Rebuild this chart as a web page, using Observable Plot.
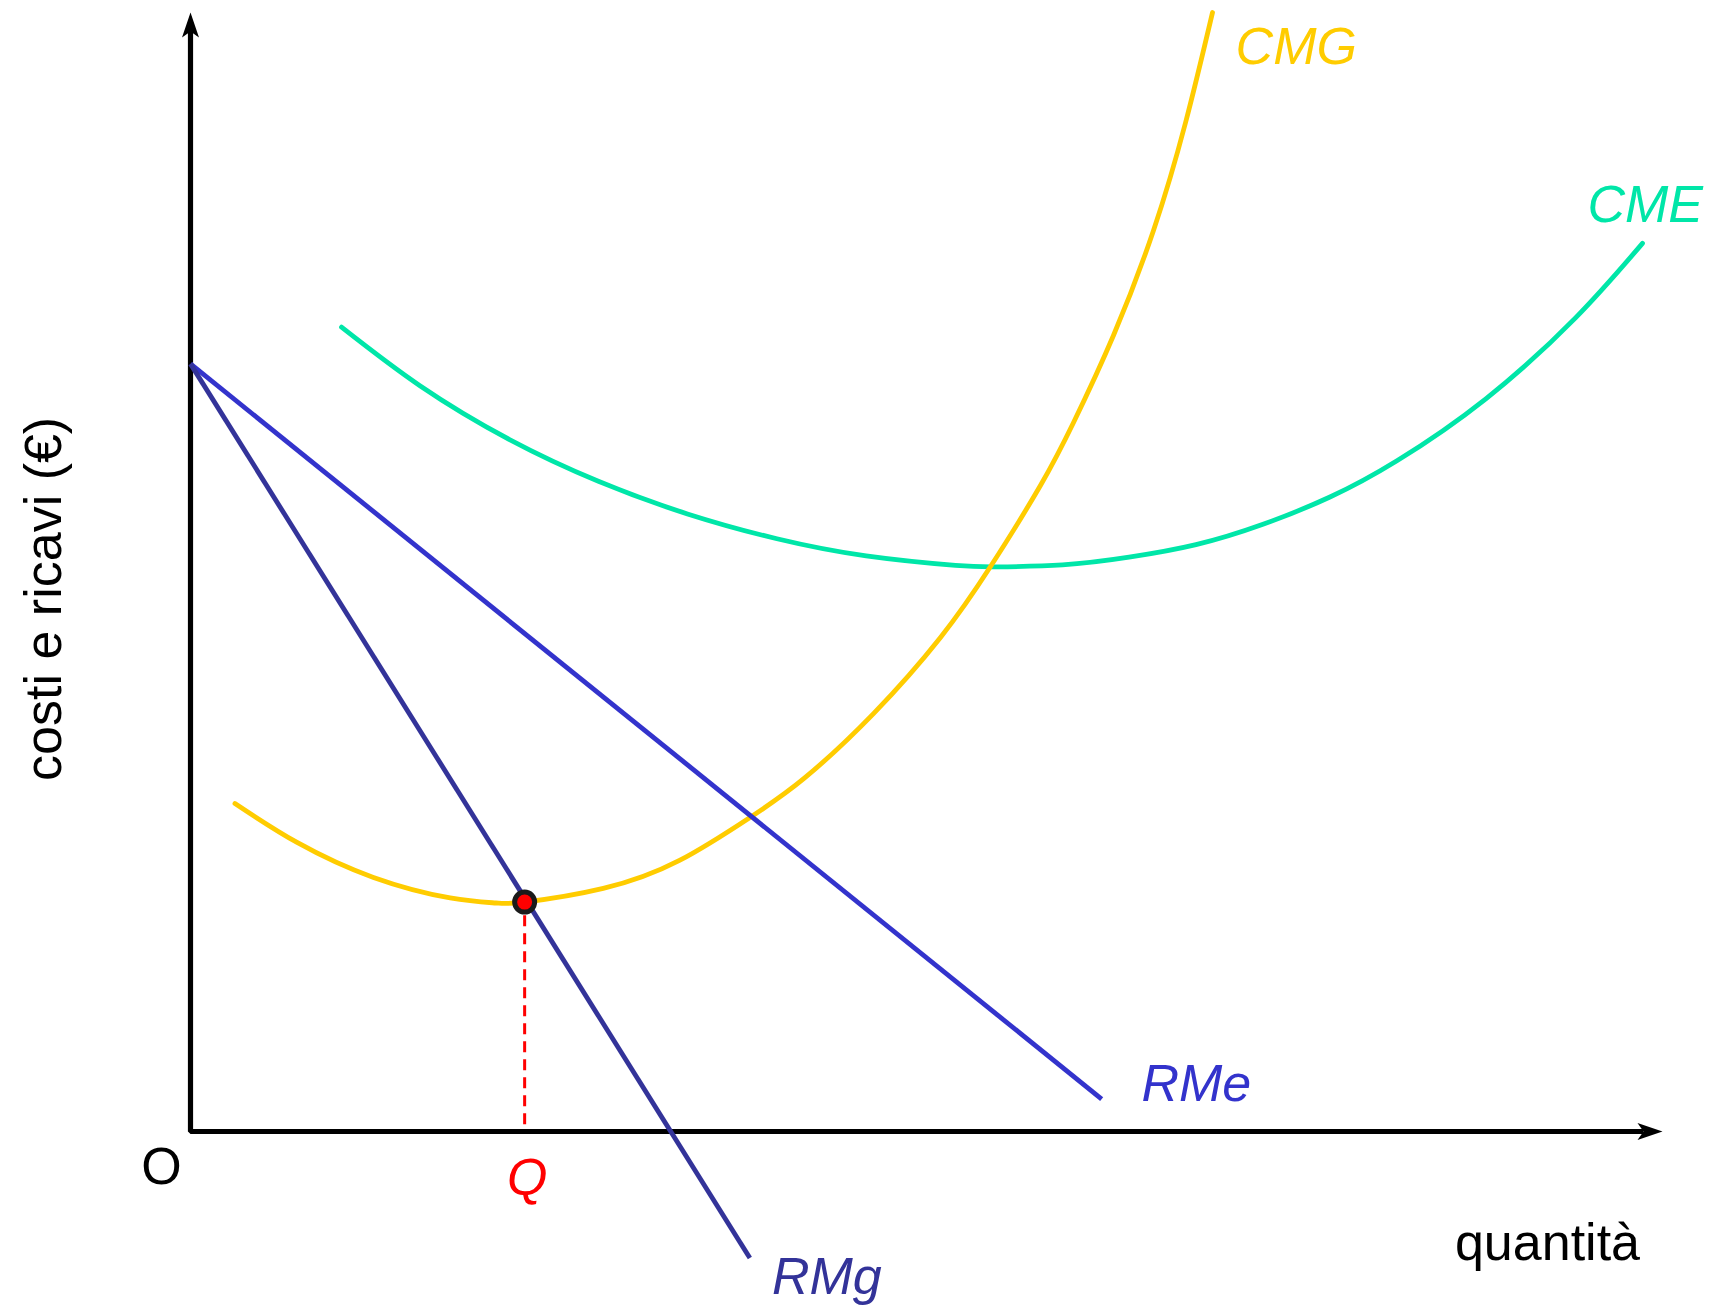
<!DOCTYPE html>
<html lang="it">
<head>
<meta charset="utf-8">
<title>Costi e ricavi</title>
<script src="https://cdn.jsdelivr.net/npm/d3@7"></script>
<script src="https://cdn.jsdelivr.net/npm/@observablehq/plot@0.6"></script>
<style>
  html, body { margin: 0; padding: 0; background: #ffffff; }
  #chart svg { display: block; }
</style>
</head>
<body>
<div id="chart"></div>
<script>
// Costo marginale (CMG): quantità e costo
const cmgQ    = [3.02, 7.24, 12.43, 17.64, 20.75, 22.7, 28.04, 33.22, 38.01, 41.68, 46.40, 50.95, 54.35, 57.74, 59.99, 62.70, 65.42, 67.60, 69.43];
const cmgCost = [29.31, 25.83, 22.70, 20.87, 20.42, 20.5, 21.72, 24.22, 28.06, 31.55, 37.35, 44.15, 50.49, 57.73, 63.36, 71.13, 80.52, 90.17, 100.0];

// Costo medio (CME)
const cmeQ    = [10.26, 15.56, 21.64, 27.71, 33.76, 39.84, 45.90, 51.97, 54.69, 59.24, 63.76, 68.31, 72.86, 77.41, 81.96, 88.02, 94.09, 98.64];
const cmeCost = [71.88, 66.67, 61.86, 58.11, 55.19, 52.97, 51.44, 50.59, 50.46, 50.63, 51.32, 52.44, 54.26, 56.70, 59.94, 65.50, 72.71, 79.37];

// Ricavo medio (RMe) e ricavo marginale (RMg): rette
const rmeQ = [0, 61.9];
const rmeP = [68.6, 2.9];
const rmgQ = [0, 38.0];
const rmgP = [68.6, -11.3];

// Equilibrio: RMg = CMG
const eqQ = 22.7;
const eqP = 20.5;

// Estremi degli assi
const axisMaxQ = 100;
const axisMaxP = 100;

const toRows = (xs, ys) => xs.map((x, i) => ({x, y: ys[i]}));

const cmg = toRows(cmgQ, cmgCost);
const cme = toRows(cmeQ, cmeCost);
const rme = toRows(rmeQ, rmeP);
const rmg = toRows(rmgQ, rmgP);

const colors = {
  cmg: "#ffcc00",
  cme: "#00e6a8",
  rme: "#3333cc",
  rmg: "#333399",
  eq: "#ff0000",
  axis: "#000000"
};

// Punte di freccia piene (tipo "stealth") con la punta nel punto dato
const arrowUp = {
  draw(ctx) {
    ctx.moveTo(0, 0);
    ctx.lineTo(8.5, 25);
    ctx.lineTo(0, 19);
    ctx.lineTo(-8.5, 25);
    ctx.closePath();
  }
};
const arrowRight = {
  draw(ctx) {
    ctx.moveTo(0, 0);
    ctx.lineTo(-25, -8.5);
    ctx.lineTo(-19, 0);
    ctx.lineTo(-25, 8.5);
    ctx.closePath();
  }
};

const font = "'Liberation Sans', Arial, Helvetica, sans-serif";
const fs = 52;
const curveWidth = 4.8;

const chart = Plot.plot({
  width: 1713,
  height: 1309,
  margin: 0,
  x: {domain: [0, axisMaxQ], range: [190, 1662], axis: null},
  y: {domain: [0, axisMaxP], range: [1131, 12], axis: null},
  style: {fontFamily: font, background: "#ffffff", overflow: "visible"},
  marks: [
    // assi
    Plot.line([{x: 0, y: axisMaxP - 1.6}, {x: 0, y: 0}, {x: axisMaxQ - 1.3, y: 0}], {
      x: "x", y: "y", stroke: colors.axis, strokeWidth: 5.2,
      strokeLinejoin: "miter", strokeLinecap: "butt", curve: "linear"
    }),
    Plot.dot([{x: 0, y: axisMaxP}], {x: "x", y: "y", symbol: arrowUp, fill: colors.axis, stroke: "none"}),
    Plot.dot([{x: axisMaxQ, y: 0}], {x: "x", y: "y", symbol: arrowRight, fill: colors.axis, stroke: "none"}),

    // curve dei costi
    Plot.line(cme, {x: "x", y: "y", stroke: colors.cme, strokeWidth: curveWidth, curve: "natural", strokeLinecap: "round"}),
    Plot.line(cmg, {x: "x", y: "y", stroke: colors.cmg, strokeWidth: curveWidth, curve: "natural", strokeLinecap: "round"}),

    // rette dei ricavi
    Plot.line(rme, {x: "x", y: "y", stroke: colors.rme, strokeWidth: curveWidth, strokeLinecap: "butt"}),
    Plot.line(rmg, {x: "x", y: "y", stroke: colors.rmg, strokeWidth: curveWidth, strokeLinecap: "butt"}),

    // quantità di equilibrio
    Plot.ruleX([eqQ], {y1: 0.6, y2: eqP, stroke: colors.eq, strokeWidth: 3, strokeDasharray: "11,7"}),
    Plot.dot([{x: eqQ, y: eqP}], {x: "x", y: "y", r: 10, fill: colors.eq, stroke: "#1a1a1a", strokeWidth: 5}),

    // etichette delle curve
    Plot.text(["CMG"], {x: 71.0, y: 95.4, text: d => d, fill: colors.cmg, fontSize: fs, fontStyle: "italic", textAnchor: "start", lineAnchor: "bottom"}),
    Plot.text(["CME"], {x: 94.9, y: 81.3, text: d => d, fill: colors.cme, fontSize: fs, fontStyle: "italic", textAnchor: "start", lineAnchor: "bottom"}),
    Plot.text(["RMe"], {x: 64.6, y: 2.7, text: d => d, fill: colors.rme, fontSize: fs, fontStyle: "italic", textAnchor: "start", lineAnchor: "bottom"}),
    Plot.text(["RMg"], {x: 39.5, y: -14.5, text: d => d, fill: colors.rmg, fontSize: fs, fontStyle: "italic", textAnchor: "start", lineAnchor: "bottom"}),
    Plot.text(["Q"], {x: 21.5, y: -5.7, text: d => d, fill: colors.eq, fontSize: fs, fontStyle: "italic", textAnchor: "start", lineAnchor: "bottom"}),

    // origine e titoli degli assi
    Plot.text(["O"], {x: -0.6, y: -4.7, text: d => d, fill: "#000", fontSize: fs, textAnchor: "end", lineAnchor: "bottom"}),
    Plot.text(["quantità"], {x: 85.9, y: -11.5, text: d => d, fill: "#000", fontSize: fs, textAnchor: "start", lineAnchor: "bottom"}),
    Plot.text(["costi e ricavi (€)"], {x: -8.8, y: 47.6, text: d => d, fill: "#000", fontSize: fs, rotate: -90, textAnchor: "middle", lineAnchor: "bottom"})
  ]
});

document.getElementById("chart").append(chart);
</script>
</body>
</html>
